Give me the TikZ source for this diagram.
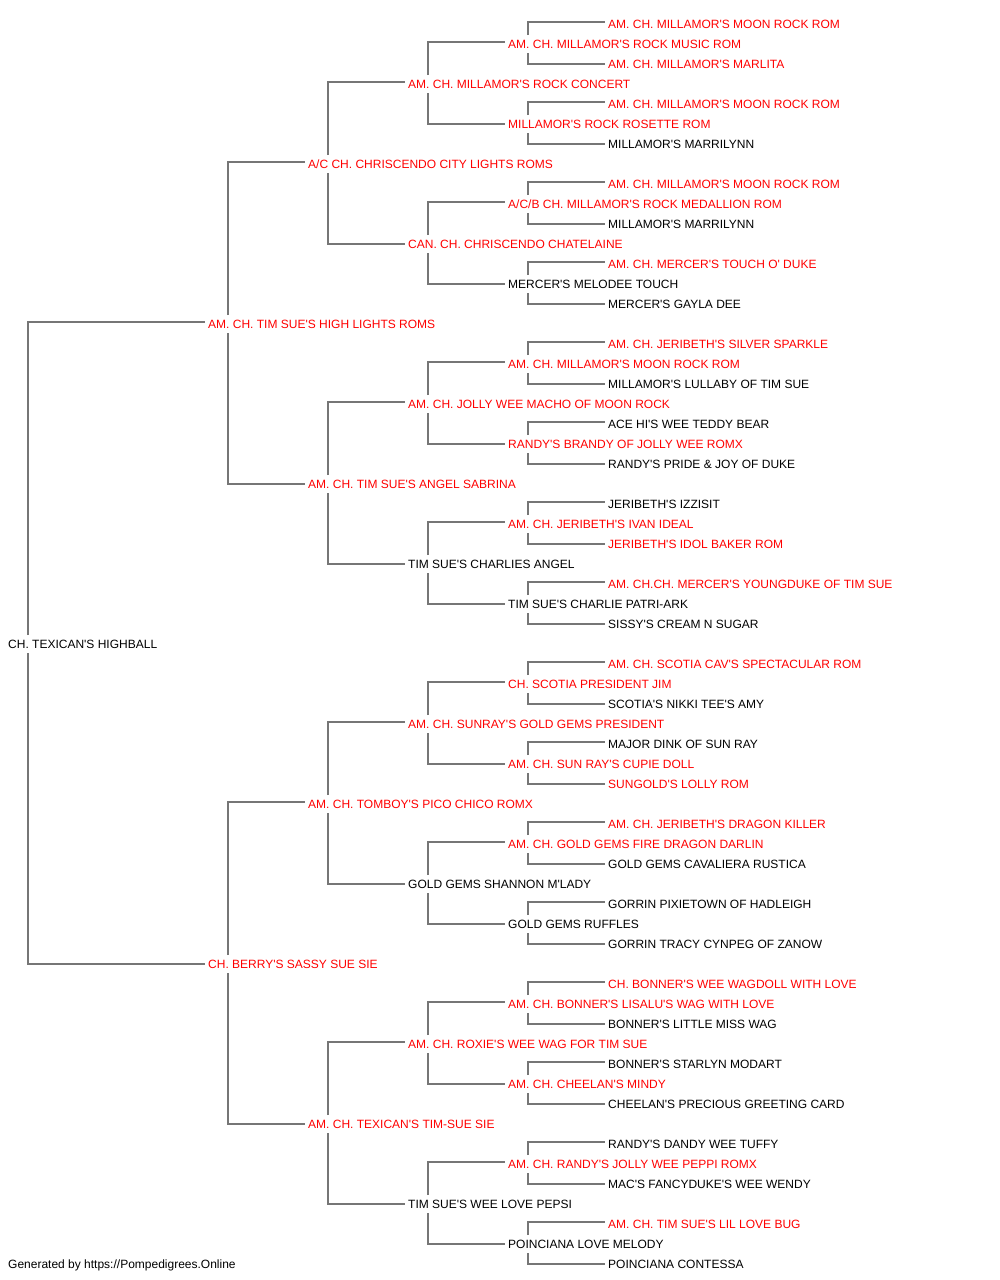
\documentclass[tikz,border=0pt]{standalone}
\usepackage{fontspec}
\setmainfont{Liberation Sans}[Ligatures=TeXOff]
\usetikzlibrary{calc}
\definecolor{linkgray}{RGB}{118,118,118}
\definecolor{titlered}{RGB}{255,0,0}
\tikzset{
  dog/.style={anchor=base west, inner sep=0pt, font=\fontsize{12}{14}\selectfont},
  ch/.style={dog, text=titlered},
  pl/.style={dog, text=black},
  link/.style={draw=linkgray, line width=2pt}
}
\newcommand\sireline[2]{\draw[link] ($(#1.base west)+(20,-13.1)$) |- ($(#2.base west)+(-3,-6.1)$);}
\newcommand\damline[2]{\draw[link] ($(#1.base west)+(20,4.9)$) |- ($(#2.base west)+(-3,-4.1)$);}
\begin{document}
\begin{tikzpicture}[x=1pt,y=-1pt]
\useasboundingbox (0,0) rectangle (1000,1280);
\node[ch] (r0) at (608,28.3) {AM. CH. MILLAMOR'S MOON ROCK ROM};
\node[ch] (r1) at (508,48.3) {AM. CH. MILLAMOR'S ROCK MUSIC ROM};
\node[ch] (r2) at (608,68.3) {AM. CH. MILLAMOR'S MARLITA};
\node[ch] (r3) at (408,88.3) {AM. CH. MILLAMOR'S ROCK CONCERT};
\node[ch] (r4) at (608,108.3) {AM. CH. MILLAMOR'S MOON ROCK ROM};
\node[ch] (r5) at (508,128.3) {MILLAMOR'S ROCK ROSETTE ROM};
\node[pl] (r6) at (608,148.3) {MILLAMOR'S MARRILYNN};
\node[ch] (r7) at (308,168.3) {A/C CH. CHRISCENDO CITY LIGHTS ROMS};
\node[ch] (r8) at (608,188.3) {AM. CH. MILLAMOR'S MOON ROCK ROM};
\node[ch] (r9) at (508,208.3) {A/C/B CH. MILLAMOR'S ROCK MEDALLION ROM};
\node[pl] (r10) at (608,228.3) {MILLAMOR'S MARRILYNN};
\node[ch] (r11) at (408,248.3) {CAN. CH. CHRISCENDO CHATELAINE};
\node[ch] (r12) at (608,268.3) {AM. CH. MERCER'S TOUCH O' DUKE};
\node[pl] (r13) at (508,288.3) {MERCER'S MELODEE TOUCH};
\node[pl] (r14) at (608,308.3) {MERCER'S GAYLA DEE};
\node[ch] (r15) at (208,328.3) {AM. CH. TIM SUE'S HIGH LIGHTS ROMS};
\node[ch] (r16) at (608,348.3) {AM. CH. JERIBETH'S SILVER SPARKLE};
\node[ch] (r17) at (508,368.3) {AM. CH. MILLAMOR'S MOON ROCK ROM};
\node[pl] (r18) at (608,388.3) {MILLAMOR'S LULLABY OF TIM SUE};
\node[ch] (r19) at (408,408.3) {AM. CH. JOLLY WEE MACHO OF MOON ROCK};
\node[pl] (r20) at (608,428.3) {ACE HI'S WEE TEDDY BEAR};
\node[ch] (r21) at (508,448.3) {RANDY'S BRANDY OF JOLLY WEE ROMX};
\node[pl] (r22) at (608,468.3) {RANDY'S PRIDE \& JOY OF DUKE};
\node[ch] (r23) at (308,488.3) {AM. CH. TIM SUE'S ANGEL SABRINA};
\node[pl] (r24) at (608,508.3) {JERIBETH'S IZZISIT};
\node[ch] (r25) at (508,528.3) {AM. CH. JERIBETH'S IVAN IDEAL};
\node[ch] (r26) at (608,548.3) {JERIBETH'S IDOL BAKER ROM};
\node[pl] (r27) at (408,568.3) {TIM SUE'S CHARLIES ANGEL};
\node[ch] (r28) at (608,588.3) {AM. CH.CH. MERCER'S YOUNGDUKE OF TIM SUE};
\node[pl] (r29) at (508,608.3) {TIM SUE'S CHARLIE PATRI-ARK};
\node[pl] (r30) at (608,628.3) {SISSY'S CREAM N SUGAR};
\node[pl] (r31) at (8,648.3) {CH. TEXICAN'S HIGHBALL};
\node[ch] (r32) at (608,668.3) {AM. CH. SCOTIA CAV'S SPECTACULAR ROM};
\node[ch] (r33) at (508,688.3) {CH. SCOTIA PRESIDENT JIM};
\node[pl] (r34) at (608,708.3) {SCOTIA'S NIKKI TEE'S AMY};
\node[ch] (r35) at (408,728.3) {AM. CH. SUNRAY'S GOLD GEMS PRESIDENT};
\node[pl] (r36) at (608,748.3) {MAJOR DINK OF SUN RAY};
\node[ch] (r37) at (508,768.3) {AM. CH. SUN RAY'S CUPIE DOLL};
\node[ch] (r38) at (608,788.3) {SUNGOLD'S LOLLY ROM};
\node[ch] (r39) at (308,808.3) {AM. CH. TOMBOY'S PICO CHICO ROMX};
\node[ch] (r40) at (608,828.3) {AM. CH. JERIBETH'S DRAGON KILLER};
\node[ch] (r41) at (508,848.3) {AM. CH. GOLD GEMS FIRE DRAGON DARLIN};
\node[pl] (r42) at (608,868.3) {GOLD GEMS CAVALIERA RUSTICA};
\node[pl] (r43) at (408,888.3) {GOLD GEMS SHANNON M'LADY};
\node[pl] (r44) at (608,908.3) {GORRIN PIXIETOWN OF HADLEIGH};
\node[pl] (r45) at (508,928.3) {GOLD GEMS RUFFLES};
\node[pl] (r46) at (608,948.3) {GORRIN TRACY CYNPEG OF ZANOW};
\node[ch] (r47) at (208,968.3) {CH. BERRY'S SASSY SUE SIE};
\node[ch] (r48) at (608,988.3) {CH. BONNER'S WEE WAGDOLL WITH LOVE};
\node[ch] (r49) at (508,1008.3) {AM. CH. BONNER'S LISALU'S WAG WITH LOVE};
\node[pl] (r50) at (608,1028.3) {BONNER'S LITTLE MISS WAG};
\node[ch] (r51) at (408,1048.3) {AM. CH. ROXIE'S WEE WAG FOR TIM SUE};
\node[pl] (r52) at (608,1068.3) {BONNER'S STARLYN MODART};
\node[ch] (r53) at (508,1088.3) {AM. CH. CHEELAN'S MINDY};
\node[pl] (r54) at (608,1108.3) {CHEELAN'S PRECIOUS GREETING CARD};
\node[ch] (r55) at (308,1128.3) {AM. CH. TEXICAN'S TIM-SUE SIE};
\node[pl] (r56) at (608,1148.3) {RANDY'S DANDY WEE TUFFY};
\node[ch] (r57) at (508,1168.3) {AM. CH. RANDY'S JOLLY WEE PEPPI ROMX};
\node[pl] (r58) at (608,1188.3) {MAC'S FANCYDUKE'S WEE WENDY};
\node[pl] (r59) at (408,1208.3) {TIM SUE'S WEE LOVE PEPSI};
\node[ch] (r60) at (608,1228.3) {AM. CH. TIM SUE'S LIL LOVE BUG};
\node[pl] (r61) at (508,1248.3) {POINCIANA LOVE MELODY};
\node[pl] (r62) at (608,1268.3) {POINCIANA CONTESSA};
\node[pl] (foot) at (8,1268.3) {Generated by https://Pompedigrees.Online};
\foreach \k [evaluate=\k as \s using int(\k-1), evaluate=\k as \t using int(\k+1)] in {1,5,...,61}
  {\sireline{r\k}{r\s}\damline{r\k}{r\t}}
\foreach \k [evaluate=\k as \s using int(\k-2), evaluate=\k as \t using int(\k+2)] in {3,11,...,59}
  {\sireline{r\k}{r\s}\damline{r\k}{r\t}}
\foreach \k [evaluate=\k as \s using int(\k-4), evaluate=\k as \t using int(\k+4)] in {7,23,39,55}
  {\sireline{r\k}{r\s}\damline{r\k}{r\t}}
\foreach \k [evaluate=\k as \s using int(\k-8), evaluate=\k as \t using int(\k+8)] in {15,47}
  {\sireline{r\k}{r\s}\damline{r\k}{r\t}}
\sireline{r31}{r15}
\damline{r31}{r47}
\end{tikzpicture}
\end{document}
